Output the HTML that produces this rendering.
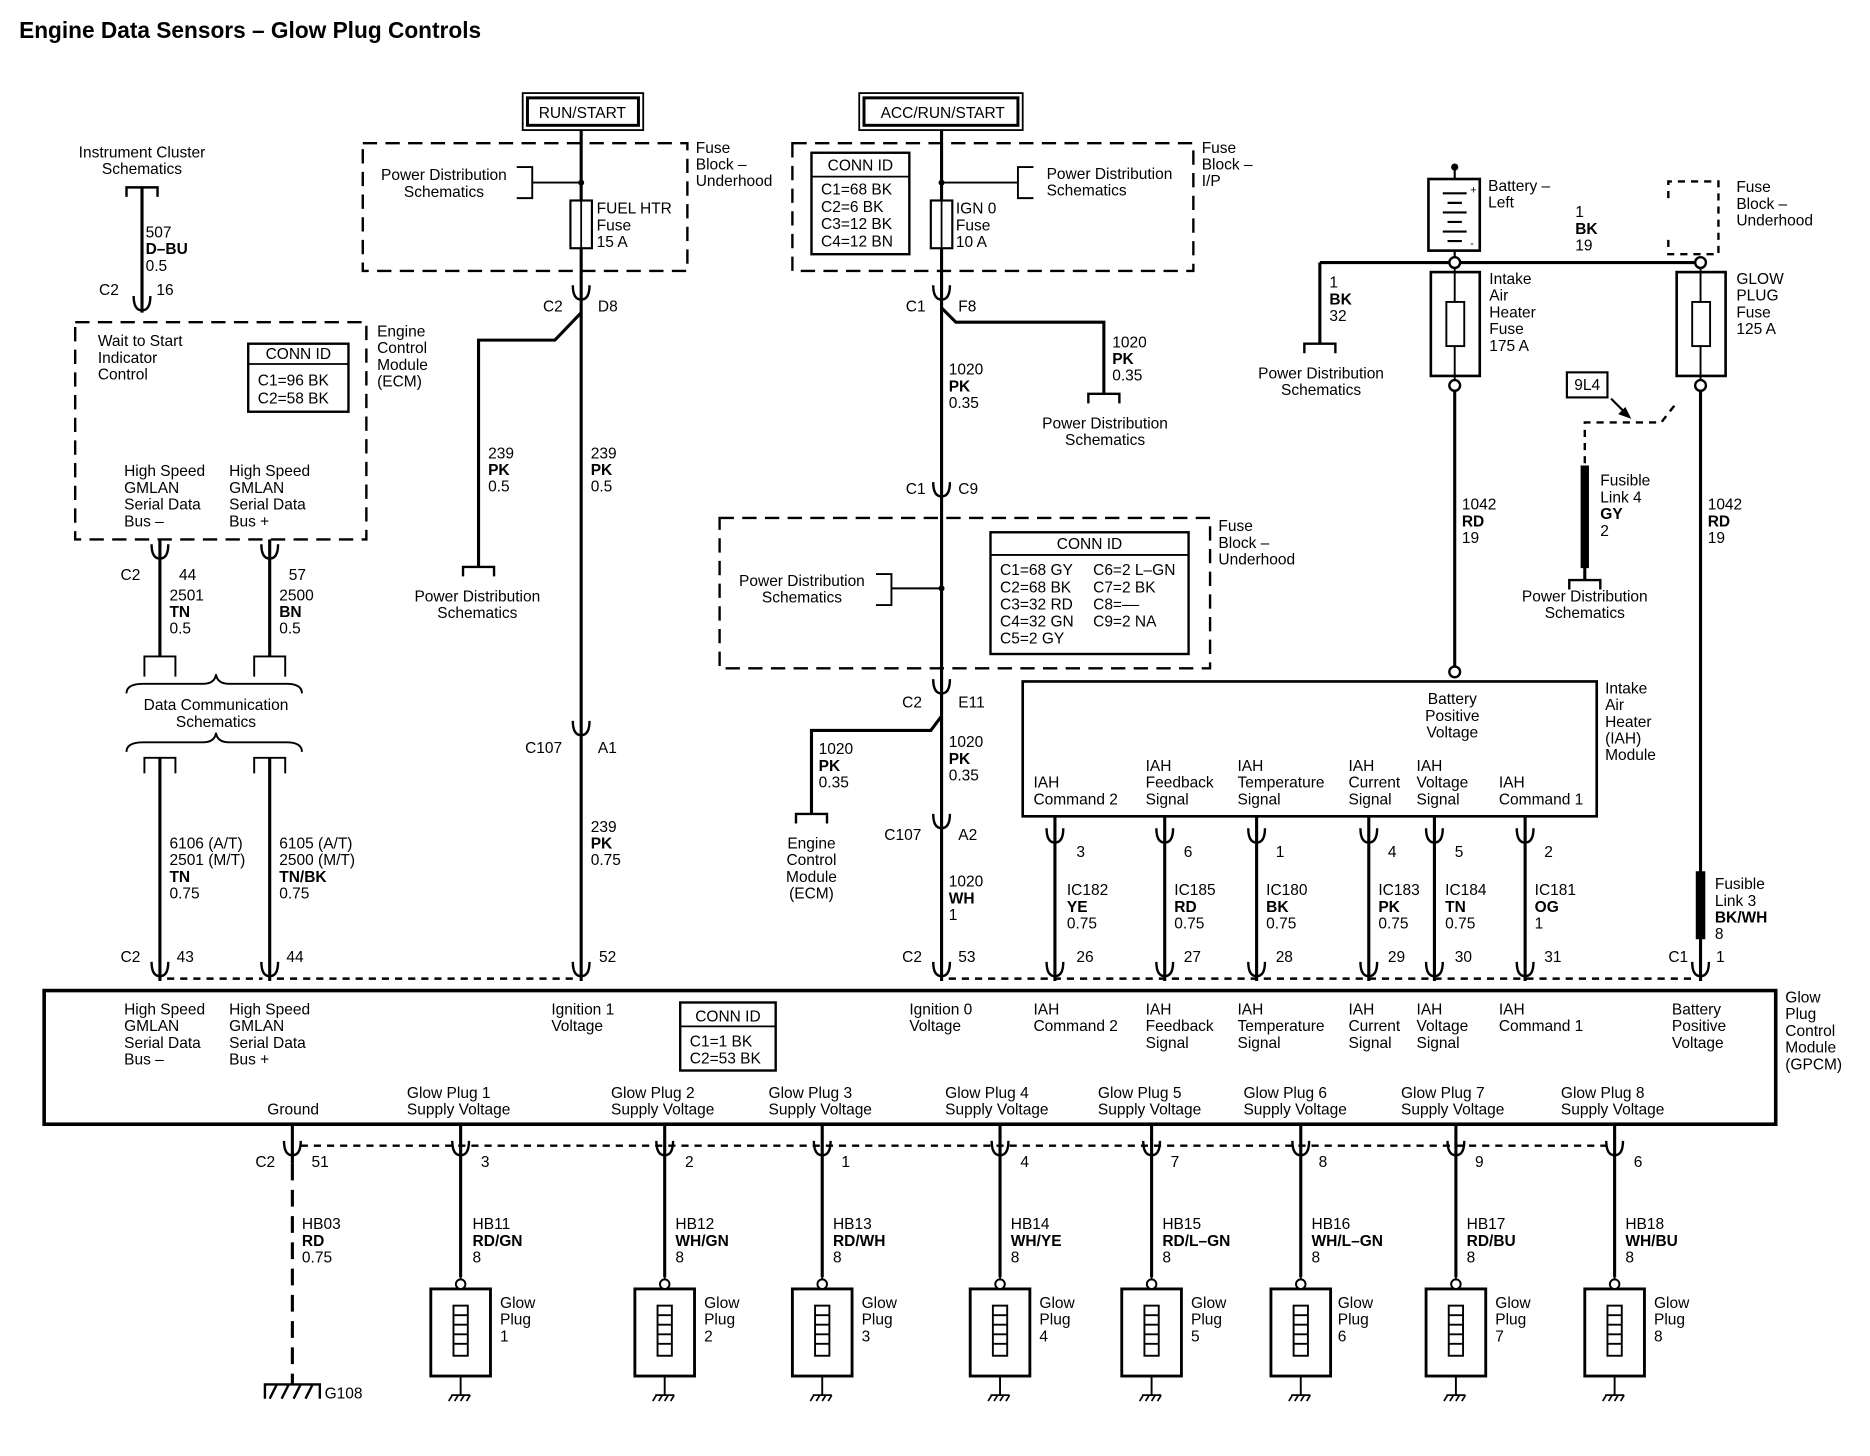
<!DOCTYPE html>
<html><head><meta charset="utf-8"><style>
html,body{margin:0;padding:0;background:#fff;}
svg{display:block;}
text{font-family:"Liberation Sans",Arial,sans-serif;font-size:13px;fill:#000;}
.c{text-anchor:middle;}
.w{stroke:#000;stroke-width:2.6;fill:none;}
.t{stroke:#000;stroke-width:1.6;fill:none;}
.d{stroke:#000;stroke-width:2;fill:none;stroke-dasharray:12 7;}
.dd{stroke:#000;stroke-width:2;fill:none;stroke-dasharray:6 5;}
.b{font-weight:bold;}
</style></head><body>
<svg width="1870" height="1456" viewBox="0 0 1567 1220" preserveAspectRatio="none" xmlns="http://www.w3.org/2000/svg">
<defs>
<path id="cn" d="M-7,-9 Q-7,3 0,3 Q7,3 7,-9" stroke="#000" stroke-width="2" fill="none"/>
<g id="gp">
<rect x="-25" y="0" width="50" height="73" fill="none" stroke="#000" stroke-width="2.4"/>
<rect x="-6" y="14" width="12" height="42" fill="none" stroke="#000" stroke-width="1.6"/>
<path d="M-6,22h12M-6,30h12M-6,38h12M-6,46h12M0,-10v10M0,73v16" stroke="#000" stroke-width="1.6"/>
<circle cx="0" cy="-4" r="4" fill="#fff" stroke="#000" stroke-width="1.6"/>
<path d="M-8,89h16M-7,89l-3,5M-2,89l-3,5M3,89l-3,5M8,89l-3,5" stroke="#000" stroke-width="1.4"/>
</g>
<path id="br" d="M-13,8 V0 H13 V8" stroke="#000" stroke-width="2" fill="none"/>
</defs>
<rect width="1567" height="1220" fill="#fff"/>
<text x="16" y="32" class="b" style="font-size:19px">Engine Data Sensors – Glow Plug Controls</text>

<!-- Instrument cluster -->
<text x="119" y="132" class="c"><tspan x="119">Instrument Cluster</tspan><tspan x="119" dy="14">Schematics</tspan></text>
<use href="#br" x="119" y="157"/>
<path class="w" d="M119,157V262"/>
<text x="122" y="199"><tspan x="122">507</tspan><tspan x="122" dy="14" class="b">D–BU</tspan><tspan x="122" dy="14">0.5</tspan></text>
<text x="83" y="247">C2</text><text x="131" y="247">16</text>
<use href="#cn" x="119" y="257"/>

<!-- ECM box -->
<rect x="63" y="270" width="244" height="182" class="d"/>
<text x="82" y="290"><tspan x="82">Wait to Start</tspan><tspan x="82" dy="14">Indicator</tspan><tspan x="82" dy="14">Control</tspan></text>
<rect x="208" y="288" width="84" height="57" fill="none" stroke="#000" stroke-width="2"/>
<path d="M208,305H292" stroke="#000" stroke-width="1.5"/>
<text x="250" y="301" class="c">CONN ID</text>
<text x="216" y="323">C1=96 BK</text><text x="216" y="338">C2=58 BK</text>
<text x="316" y="282"><tspan x="316">Engine</tspan><tspan x="316" dy="14">Control</tspan><tspan x="316" dy="14">Module</tspan><tspan x="316" dy="14">(ECM)</tspan></text>
<text x="104" y="399"><tspan x="104">High Speed</tspan><tspan x="104" dy="14">GMLAN</tspan><tspan x="104" dy="14">Serial Data</tspan><tspan x="104" dy="14">Bus –</tspan></text>
<text x="192" y="399"><tspan x="192">High Speed</tspan><tspan x="192" dy="14">GMLAN</tspan><tspan x="192" dy="14">Serial Data</tspan><tspan x="192" dy="14">Bus +</tspan></text>
<path class="w" d="M134,452V550M226,452V550"/>
<use href="#cn" x="134" y="465"/><use href="#cn" x="226" y="465"/>
<text x="101" y="486">C2</text><text x="150" y="486">44</text><text x="242" y="486">57</text>
<text x="142" y="503"><tspan x="142">2501</tspan><tspan x="142" dy="14" class="b">TN</tspan><tspan x="142" dy="14">0.5</tspan></text>
<text x="234" y="503"><tspan x="234">2500</tspan><tspan x="234" dy="14" class="b">BN</tspan><tspan x="234" dy="14">0.5</tspan></text>
<path d="M121,567V550H147V567M213,567V550H239V567" class="t"/>
<path d="M106,581Q106,573 120,573H170Q180,573 181,565Q182,573 192,573H240Q253,573 253,581" class="t"/>
<text x="181" y="595" class="c"><tspan x="181">Data Communication</tspan><tspan x="181" dy="14">Schematics</tspan></text>
<path d="M106,630Q106,622 120,622H170Q180,622 181,614Q182,622 192,622H240Q253,622 253,630" class="t"/>
<path d="M121,648V635H147V648M213,648V635H239V648" class="t"/>
<path class="w" d="M134,635V822M226,635V822"/>
<text x="142" y="711"><tspan x="142">6106 (A/T)</tspan><tspan x="142" dy="14">2501 (M/T)</tspan><tspan x="142" dy="14" class="b">TN</tspan><tspan x="142" dy="14">0.75</tspan></text>
<text x="234" y="711"><tspan x="234">6105 (A/T)</tspan><tspan x="234" dy="14">2500 (M/T)</tspan><tspan x="234" dy="14" class="b">TN/BK</tspan><tspan x="234" dy="14">0.75</tspan></text>
<text x="101" y="806">C2</text><text x="148" y="806">43</text><text x="240" y="806">44</text>
<use href="#cn" x="134" y="815"/><use href="#cn" x="226" y="815"/>

<!-- RUN/START -->
<rect x="438" y="78" width="101" height="31" fill="none" stroke="#000" stroke-width="1.5"/>
<rect x="442" y="82" width="93" height="23" fill="none" stroke="#000" stroke-width="2.5"/>
<text x="488" y="99" class="c">RUN/START</text>
<rect x="304" y="120" width="272" height="107" class="d"/>
<path class="w" d="M487,109V822"/>
<text x="372" y="151" class="c"><tspan x="372">Power Distribution</tspan><tspan x="372" dy="14">Schematics</tspan></text>
<path d="M433,140H446V166H433M446,153H487" class="t"/>
<circle cx="487" cy="153" r="2.5"/>
<rect x="478" y="168" width="18" height="40" fill="#fff" stroke="#000" stroke-width="1.8"/>
<path d="M487,168V208" stroke="#000" stroke-width="1.5"/>
<text x="500" y="179"><tspan x="500">FUEL HTR</tspan><tspan x="500" dy="14">Fuse</tspan><tspan x="500" dy="14">15 A</tspan></text>
<text x="583" y="128"><tspan x="583">Fuse</tspan><tspan x="583" dy="14">Block –</tspan><tspan x="583" dy="14">Underhood</tspan></text>
<use href="#cn" x="487" y="248"/>
<text x="455" y="261">C2</text><text x="501" y="261">D8</text>
<path class="w" d="M487,262L465,285H401V475"/>
<use href="#br" x="401" y="475"/>
<text x="400" y="504" class="c"><tspan x="400">Power Distribution</tspan><tspan x="400" dy="14">Schematics</tspan></text>
<text x="409" y="384"><tspan x="409">239</tspan><tspan x="409" dy="14" class="b">PK</tspan><tspan x="409" dy="14">0.5</tspan></text>
<text x="495" y="384"><tspan x="495">239</tspan><tspan x="495" dy="14" class="b">PK</tspan><tspan x="495" dy="14">0.5</tspan></text>
<use href="#cn" x="487" y="613"/>
<text x="440" y="631">C107</text><text x="501" y="631">A1</text>
<text x="495" y="697"><tspan x="495">239</tspan><tspan x="495" dy="14" class="b">PK</tspan><tspan x="495" dy="14">0.75</tspan></text>
<text x="502" y="806">52</text>
<use href="#cn" x="487" y="815"/>

<!-- ACC/RUN/START -->
<rect x="720" y="78" width="137" height="31" fill="none" stroke="#000" stroke-width="1.5"/>
<rect x="724" y="82" width="129" height="23" fill="none" stroke="#000" stroke-width="2.5"/>
<text x="790" y="99" class="c">ACC/RUN/START</text>
<rect x="664" y="120" width="336" height="107" class="d"/>
<rect x="680" y="128" width="82" height="85" fill="none" stroke="#000" stroke-width="2"/>
<path d="M680,148H762" stroke="#000" stroke-width="1.5"/>
<text x="721" y="143" class="c">CONN ID</text>
<text x="688" y="163"><tspan x="688">C1=68 BK</tspan><tspan x="688" dy="14.5">C2=6 BK</tspan><tspan x="688" dy="14.5">C3=12 BK</tspan><tspan x="688" dy="14.5">C4=12 BN</tspan></text>
<path class="w" d="M789,109V822"/>
<path d="M866,140H853V166H866M853,153H789" class="t"/>
<circle cx="789" cy="153" r="2.5"/>
<text x="877" y="150"><tspan x="877">Power Distribution</tspan><tspan x="877" dy="14">Schematics</tspan></text>
<rect x="780" y="168" width="18" height="40" fill="#fff" stroke="#000" stroke-width="1.8"/>
<path d="M789,168V208" stroke="#000" stroke-width="1.5"/>
<text x="801" y="179"><tspan x="801">IGN 0</tspan><tspan x="801" dy="14">Fuse</tspan><tspan x="801" dy="14">10 A</tspan></text>
<text x="1007" y="128"><tspan x="1007">Fuse</tspan><tspan x="1007" dy="14">Block –</tspan><tspan x="1007" dy="14">I/P</tspan></text>
<use href="#cn" x="789" y="248"/>
<text x="759" y="261">C1</text><text x="803" y="261">F8</text>
<path class="w" d="M789,258L801,270H925V330"/>
<use href="#br" x="925" y="330"/>
<text x="932" y="291"><tspan x="932">1020</tspan><tspan x="932" dy="14" class="b">PK</tspan><tspan x="932" dy="14">0.35</tspan></text>
<text x="926" y="359" class="c"><tspan x="926">Power Distribution</tspan><tspan x="926" dy="14">Schematics</tspan></text>
<text x="795" y="314"><tspan x="795">1020</tspan><tspan x="795" dy="14" class="b">PK</tspan><tspan x="795" dy="14">0.35</tspan></text>
<use href="#cn" x="789" y="413"/>
<text x="759" y="414">C1</text><text x="803" y="414">C9</text>
<rect x="603" y="434" width="411" height="126" class="d"/>
<text x="1021" y="445"><tspan x="1021">Fuse</tspan><tspan x="1021" dy="14">Block –</tspan><tspan x="1021" dy="14">Underhood</tspan></text>
<text x="672" y="491" class="c"><tspan x="672">Power Distribution</tspan><tspan x="672" dy="14">Schematics</tspan></text>
<path d="M734,481H747V507H734M747,493H789" class="t"/>
<circle cx="789" cy="493" r="2.5"/>
<rect x="830" y="446" width="166" height="102" fill="none" stroke="#000" stroke-width="2"/>
<path d="M830,465H996" stroke="#000" stroke-width="1.5"/>
<text x="913" y="460" class="c">CONN ID</text>
<text x="838" y="482"><tspan x="838">C1=68 GY</tspan><tspan x="838" dy="14.3">C2=68 BK</tspan><tspan x="838" dy="14.3">C3=32 RD</tspan><tspan x="838" dy="14.3">C4=32 GN</tspan><tspan x="838" dy="14.3">C5=2 GY</tspan></text>
<text x="916" y="482"><tspan x="916">C6=2 L–GN</tspan><tspan x="916" dy="14.3">C7=2 BK</tspan><tspan x="916" dy="14.3">C8=––</tspan><tspan x="916" dy="14.3">C9=2 NA</tspan></text>
<use href="#cn" x="789" y="578"/>
<text x="756" y="593">C2</text><text x="803" y="593">E11</text>
<path class="w" d="M789,600L780,612H680V682"/>
<use href="#br" x="680" y="682"/>
<text x="686" y="632"><tspan x="686">1020</tspan><tspan x="686" dy="14" class="b">PK</tspan><tspan x="686" dy="14">0.35</tspan></text>
<text x="680" y="711" class="c"><tspan x="680">Engine</tspan><tspan x="680" dy="14">Control</tspan><tspan x="680" dy="14">Module</tspan><tspan x="680" dy="14">(ECM)</tspan></text>
<text x="795" y="626"><tspan x="795">1020</tspan><tspan x="795" dy="14" class="b">PK</tspan><tspan x="795" dy="14">0.35</tspan></text>
<use href="#cn" x="789" y="691"/>
<text x="741" y="704">C107</text><text x="803" y="704">A2</text>
<text x="795" y="743"><tspan x="795">1020</tspan><tspan x="795" dy="14" class="b">WH</tspan><tspan x="795" dy="14">1</tspan></text>
<text x="756" y="806">C2</text><text x="803" y="806">53</text>
<use href="#cn" x="789" y="815"/>

<!-- Battery -->
<rect x="1197" y="150" width="43" height="60" fill="none" stroke="#000" stroke-width="2.2"/>
<path d="M1219,138V150M1219,210V220M1209,162H1229M1213,170H1225M1209,178H1229M1213,186H1225M1209,194H1229M1213,202H1225" stroke="#000" stroke-width="1.8"/>
<circle cx="1219" cy="140" r="3"/>
<text x="1232" y="162" style="font-size:9px">+</text><text x="1232" y="207" style="font-size:9px">-</text>
<text x="1247" y="160"><tspan x="1247">Battery –</tspan><tspan x="1247" dy="14">Left</tspan></text>
<text x="1320" y="182"><tspan x="1320">1</tspan><tspan x="1320" dy="14" class="b">BK</tspan><tspan x="1320" dy="14">19</tspan></text>
<path d="M1398,166V152H1440V213H1398V200" class="dd"/>
<text x="1455" y="161"><tspan x="1455">Fuse</tspan><tspan x="1455" dy="14">Block –</tspan><tspan x="1455" dy="14">Underhood</tspan></text>
<path class="w" d="M1106,220H1425M1106,220V288"/>
<circle cx="1219" cy="220" r="4.5" fill="#fff" stroke="#000" stroke-width="2"/>
<circle cx="1425" cy="220" r="4.5" fill="#fff" stroke="#000" stroke-width="2"/>
<use href="#br" x="1106" y="288"/>
<text x="1114" y="241"><tspan x="1114">1</tspan><tspan x="1114" dy="14" class="b">BK</tspan><tspan x="1114" dy="14">32</tspan></text>
<text x="1107" y="317" class="c"><tspan x="1107">Power Distribution</tspan><tspan x="1107" dy="14">Schematics</tspan></text>
<rect x="1199" y="228" width="41" height="87" fill="none" stroke="#000" stroke-width="2.2"/>
<rect x="1212" y="253" width="15" height="37" fill="none" stroke="#000" stroke-width="1.6"/>
<path d="M1219,225V253M1219,290V318" stroke="#000" stroke-width="1.6"/>
<text x="1248" y="238"><tspan x="1248">Intake</tspan><tspan x="1248" dy="14">Air</tspan><tspan x="1248" dy="14">Heater</tspan><tspan x="1248" dy="14">Fuse</tspan><tspan x="1248" dy="14">175 A</tspan></text>
<path class="w" d="M1219,327V560"/>
<circle cx="1219" cy="323" r="4.5" fill="#fff" stroke="#000" stroke-width="2"/>
<circle cx="1219" cy="563" r="4.5" fill="#fff" stroke="#000" stroke-width="2"/>
<text x="1225" y="427"><tspan x="1225">1042</tspan><tspan x="1225" dy="14" class="b">RD</tspan><tspan x="1225" dy="14">19</tspan></text>
<rect x="1405" y="228" width="41" height="87" fill="none" stroke="#000" stroke-width="2.2"/>
<rect x="1418" y="253" width="15" height="37" fill="none" stroke="#000" stroke-width="1.6"/>
<path d="M1425,225V253M1425,290V318" stroke="#000" stroke-width="1.6"/>
<text x="1455" y="238"><tspan x="1455">GLOW</tspan><tspan x="1455" dy="14">PLUG</tspan><tspan x="1455" dy="14">Fuse</tspan><tspan x="1455" dy="14">125 A</tspan></text>
<path class="w" d="M1425,327V822"/>
<circle cx="1425" cy="323" r="4.5" fill="#fff" stroke="#000" stroke-width="2"/>
<text x="1431" y="427"><tspan x="1431">1042</tspan><tspan x="1431" dy="14" class="b">RD</tspan><tspan x="1431" dy="14">19</tspan></text>
<rect x="1313" y="312" width="34" height="21" fill="none" stroke="#000" stroke-width="1.8"/>
<text x="1330" y="327" class="c">9L4</text>
<path d="M1403,340L1392,354H1328V390" class="dd"/>
<path d="M1350,334L1362,346" stroke="#000" stroke-width="1.8"/>
<path d="M1367,351L1356,347L1362,341Z" fill="#000"/>
<path d="M1328,390V476" stroke="#000" stroke-width="7"/>
<path class="w" d="M1328,390V486"/>
<use href="#br" x="1328" y="486"/>
<text x="1341" y="407"><tspan x="1341">Fusible</tspan><tspan x="1341" dy="14">Link 4</tspan><tspan x="1341" dy="14" class="b">GY</tspan><tspan x="1341" dy="14">2</tspan></text>
<text x="1328" y="504" class="c"><tspan x="1328">Power Distribution</tspan><tspan x="1328" dy="14">Schematics</tspan></text>
<path d="M1425,730V787" stroke="#000" stroke-width="8"/>
<text x="1437" y="745"><tspan x="1437">Fusible</tspan><tspan x="1437" dy="14">Link 3</tspan><tspan x="1437" dy="14" class="b">BK/WH</tspan><tspan x="1437" dy="14">8</tspan></text>
<text x="1398" y="806">C1</text><text x="1438" y="806">1</text>
<use href="#cn" x="1425" y="815"/>

<!-- IAH module -->
<rect x="857" y="571" width="481" height="113" fill="none" stroke="#000" stroke-width="2.2"/>
<text x="1217" y="590" class="c"><tspan x="1217">Battery</tspan><tspan x="1217" dy="14">Positive</tspan><tspan x="1217" dy="14">Voltage</tspan></text>
<text x="1345" y="581"><tspan x="1345">Intake</tspan><tspan x="1345" dy="14">Air</tspan><tspan x="1345" dy="14">Heater</tspan><tspan x="1345" dy="14">(IAH)</tspan><tspan x="1345" dy="14">Module</tspan></text>
<text x="866" y="660"><tspan x="866">IAH</tspan><tspan x="866" dy="14">Command 2</tspan></text>
<text x="960" y="646"><tspan x="960">IAH</tspan><tspan x="960" dy="14">Feedback</tspan><tspan x="960" dy="14">Signal</tspan></text>
<text x="1037" y="646"><tspan x="1037">IAH</tspan><tspan x="1037" dy="14">Temperature</tspan><tspan x="1037" dy="14">Signal</tspan></text>
<text x="1130" y="646"><tspan x="1130">IAH</tspan><tspan x="1130" dy="14">Current</tspan><tspan x="1130" dy="14">Signal</tspan></text>
<text x="1187" y="646"><tspan x="1187">IAH</tspan><tspan x="1187" dy="14">Voltage</tspan><tspan x="1187" dy="14">Signal</tspan></text>
<text x="1256" y="660"><tspan x="1256">IAH</tspan><tspan x="1256" dy="14">Command 1</tspan></text>
<path class="w" d="M884,684V822M976,684V822M1053,684V822M1147,684V822M1202,684V822M1278,684V822"/>
<use href="#cn" x="884" y="703"/><use href="#cn" x="976" y="703"/><use href="#cn" x="1053" y="703"/><use href="#cn" x="1147" y="703"/><use href="#cn" x="1202" y="703"/><use href="#cn" x="1278" y="703"/>
<text x="902" y="718">3</text><text x="992" y="718">6</text><text x="1069" y="718">1</text><text x="1163" y="718">4</text><text x="1219" y="718">5</text><text x="1294" y="718">2</text>
<text x="894" y="750"><tspan x="894">IC182</tspan><tspan x="894" dy="14" class="b">YE</tspan><tspan x="894" dy="14">0.75</tspan></text>
<text x="984" y="750"><tspan x="984">IC185</tspan><tspan x="984" dy="14" class="b">RD</tspan><tspan x="984" dy="14">0.75</tspan></text>
<text x="1061" y="750"><tspan x="1061">IC180</tspan><tspan x="1061" dy="14" class="b">BK</tspan><tspan x="1061" dy="14">0.75</tspan></text>
<text x="1155" y="750"><tspan x="1155">IC183</tspan><tspan x="1155" dy="14" class="b">PK</tspan><tspan x="1155" dy="14">0.75</tspan></text>
<text x="1211" y="750"><tspan x="1211">IC184</tspan><tspan x="1211" dy="14" class="b">TN</tspan><tspan x="1211" dy="14">0.75</tspan></text>
<text x="1286" y="750"><tspan x="1286">IC181</tspan><tspan x="1286" dy="14" class="b">OG</tspan><tspan x="1286" dy="14">1</tspan></text>
<text x="902" y="806">26</text><text x="992" y="806">27</text><text x="1069" y="806">28</text><text x="1163" y="806">29</text><text x="1219" y="806">30</text><text x="1294" y="806">31</text>
<use href="#cn" x="884" y="815"/><use href="#cn" x="976" y="815"/><use href="#cn" x="1053" y="815"/><use href="#cn" x="1147" y="815"/><use href="#cn" x="1202" y="815"/><use href="#cn" x="1278" y="815"/>
<path class="dd" d="M140,820H220M232,820H480M795,820H1420"/>

<!-- GPCM -->
<rect x="37" y="830" width="1451" height="112" fill="none" stroke="#000" stroke-width="3"/>
<text x="104" y="850"><tspan x="104">High Speed</tspan><tspan x="104" dy="14">GMLAN</tspan><tspan x="104" dy="14">Serial Data</tspan><tspan x="104" dy="14">Bus –</tspan></text>
<text x="192" y="850"><tspan x="192">High Speed</tspan><tspan x="192" dy="14">GMLAN</tspan><tspan x="192" dy="14">Serial Data</tspan><tspan x="192" dy="14">Bus +</tspan></text>
<text x="462" y="850"><tspan x="462">Ignition 1</tspan><tspan x="462" dy="14">Voltage</tspan></text>
<rect x="570" y="840" width="80" height="57" fill="none" stroke="#000" stroke-width="2"/>
<path d="M570,860H650" stroke="#000" stroke-width="1.5"/>
<text x="610" y="856" class="c">CONN ID</text>
<text x="578" y="877">C1=1 BK</text><text x="578" y="891">C2=53 BK</text>
<text x="762" y="850"><tspan x="762">Ignition 0</tspan><tspan x="762" dy="14">Voltage</tspan></text>
<text x="866" y="850"><tspan x="866">IAH</tspan><tspan x="866" dy="14">Command 2</tspan></text>
<text x="960" y="850"><tspan x="960">IAH</tspan><tspan x="960" dy="14">Feedback</tspan><tspan x="960" dy="14">Signal</tspan></text>
<text x="1037" y="850"><tspan x="1037">IAH</tspan><tspan x="1037" dy="14">Temperature</tspan><tspan x="1037" dy="14">Signal</tspan></text>
<text x="1130" y="850"><tspan x="1130">IAH</tspan><tspan x="1130" dy="14">Current</tspan><tspan x="1130" dy="14">Signal</tspan></text>
<text x="1187" y="850"><tspan x="1187">IAH</tspan><tspan x="1187" dy="14">Voltage</tspan><tspan x="1187" dy="14">Signal</tspan></text>
<text x="1256" y="850"><tspan x="1256">IAH</tspan><tspan x="1256" dy="14">Command 1</tspan></text>
<text x="1401" y="850"><tspan x="1401">Battery</tspan><tspan x="1401" dy="14">Positive</tspan><tspan x="1401" dy="14">Voltage</tspan></text>
<text x="1496" y="840"><tspan x="1496">Glow</tspan><tspan x="1496" dy="14">Plug</tspan><tspan x="1496" dy="14">Control</tspan><tspan x="1496" dy="14">Module</tspan><tspan x="1496" dy="14">(GPCM)</tspan></text>
<text x="224" y="934">Ground</text>
<text x="341" y="920"><tspan x="341">Glow Plug 1</tspan><tspan x="341" dy="14">Supply Voltage</tspan></text>
<text x="512" y="920"><tspan x="512">Glow Plug 2</tspan><tspan x="512" dy="14">Supply Voltage</tspan></text>
<text x="644" y="920"><tspan x="644">Glow Plug 3</tspan><tspan x="644" dy="14">Supply Voltage</tspan></text>
<text x="792" y="920"><tspan x="792">Glow Plug 4</tspan><tspan x="792" dy="14">Supply Voltage</tspan></text>
<text x="920" y="920"><tspan x="920">Glow Plug 5</tspan><tspan x="920" dy="14">Supply Voltage</tspan></text>
<text x="1042" y="920"><tspan x="1042">Glow Plug 6</tspan><tspan x="1042" dy="14">Supply Voltage</tspan></text>
<text x="1174" y="920"><tspan x="1174">Glow Plug 7</tspan><tspan x="1174" dy="14">Supply Voltage</tspan></text>
<text x="1308" y="920"><tspan x="1308">Glow Plug 8</tspan><tspan x="1308" dy="14">Supply Voltage</tspan></text>

<!-- bottom -->
<path class="dd" d="M252,960H1350"/>
<path class="w" d="M245,942V975"/>
<path d="M245,975V1160" stroke="#000" stroke-width="2.6" stroke-dasharray="14 8"/>
<use href="#cn" x="245" y="965"/>
<text x="214" y="978">C2</text><text x="261" y="978">51</text>
<text x="253" y="1030"><tspan x="253">HB03</tspan><tspan x="253" dy="14" class="b">RD</tspan><tspan x="253" dy="14">0.75</tspan></text>
<path d="M222,1172V1160H268V1172M232,1160l-6,12M242,1160l-6,12M252,1160l-6,12M262,1160l-6,12" stroke="#000" stroke-width="2" fill="none"/>
<text x="272" y="1172">G108</text>

<path class="w" d="M386,942V1070M557,942V1070M689,942V1070M838,942V1070M965,942V1070M1090,942V1070M1220,942V1070M1353,942V1070"/>
<use href="#cn" x="386" y="965"/><use href="#cn" x="557" y="965"/><use href="#cn" x="689" y="965"/><use href="#cn" x="838" y="965"/><use href="#cn" x="965" y="965"/><use href="#cn" x="1090" y="965"/><use href="#cn" x="1220" y="965"/><use href="#cn" x="1353" y="965"/>
<text x="403" y="978">3</text><text x="574" y="978">2</text><text x="705" y="978">1</text><text x="855" y="978">4</text><text x="981" y="978">7</text><text x="1105" y="978">8</text><text x="1236" y="978">9</text><text x="1369" y="978">6</text>
<text x="396" y="1030"><tspan x="396">HB11</tspan><tspan x="396" dy="14" class="b">RD/GN</tspan><tspan x="396" dy="14">8</tspan></text>
<text x="566" y="1030"><tspan x="566">HB12</tspan><tspan x="566" dy="14" class="b">WH/GN</tspan><tspan x="566" dy="14">8</tspan></text>
<text x="698" y="1030"><tspan x="698">HB13</tspan><tspan x="698" dy="14" class="b">RD/WH</tspan><tspan x="698" dy="14">8</tspan></text>
<text x="847" y="1030"><tspan x="847">HB14</tspan><tspan x="847" dy="14" class="b">WH/YE</tspan><tspan x="847" dy="14">8</tspan></text>
<text x="974" y="1030"><tspan x="974">HB15</tspan><tspan x="974" dy="14" class="b">RD/L–GN</tspan><tspan x="974" dy="14">8</tspan></text>
<text x="1099" y="1030"><tspan x="1099">HB16</tspan><tspan x="1099" dy="14" class="b">WH/L–GN</tspan><tspan x="1099" dy="14">8</tspan></text>
<text x="1229" y="1030"><tspan x="1229">HB17</tspan><tspan x="1229" dy="14" class="b">RD/BU</tspan><tspan x="1229" dy="14">8</tspan></text>
<text x="1362" y="1030"><tspan x="1362">HB18</tspan><tspan x="1362" dy="14" class="b">WH/BU</tspan><tspan x="1362" dy="14">8</tspan></text>
<use href="#gp" x="386" y="1080"/><use href="#gp" x="557" y="1080"/><use href="#gp" x="689" y="1080"/><use href="#gp" x="838" y="1080"/><use href="#gp" x="965" y="1080"/><use href="#gp" x="1090" y="1080"/><use href="#gp" x="1220" y="1080"/><use href="#gp" x="1353" y="1080"/>
<text x="419" y="1096"><tspan x="419">Glow</tspan><tspan x="419" dy="14">Plug</tspan><tspan x="419" dy="14">1</tspan></text>
<text x="590" y="1096"><tspan x="590">Glow</tspan><tspan x="590" dy="14">Plug</tspan><tspan x="590" dy="14">2</tspan></text>
<text x="722" y="1096"><tspan x="722">Glow</tspan><tspan x="722" dy="14">Plug</tspan><tspan x="722" dy="14">3</tspan></text>
<text x="871" y="1096"><tspan x="871">Glow</tspan><tspan x="871" dy="14">Plug</tspan><tspan x="871" dy="14">4</tspan></text>
<text x="998" y="1096"><tspan x="998">Glow</tspan><tspan x="998" dy="14">Plug</tspan><tspan x="998" dy="14">5</tspan></text>
<text x="1121" y="1096"><tspan x="1121">Glow</tspan><tspan x="1121" dy="14">Plug</tspan><tspan x="1121" dy="14">6</tspan></text>
<text x="1253" y="1096"><tspan x="1253">Glow</tspan><tspan x="1253" dy="14">Plug</tspan><tspan x="1253" dy="14">7</tspan></text>
<text x="1386" y="1096"><tspan x="1386">Glow</tspan><tspan x="1386" dy="14">Plug</tspan><tspan x="1386" dy="14">8</tspan></text>
</svg>
</body></html>
